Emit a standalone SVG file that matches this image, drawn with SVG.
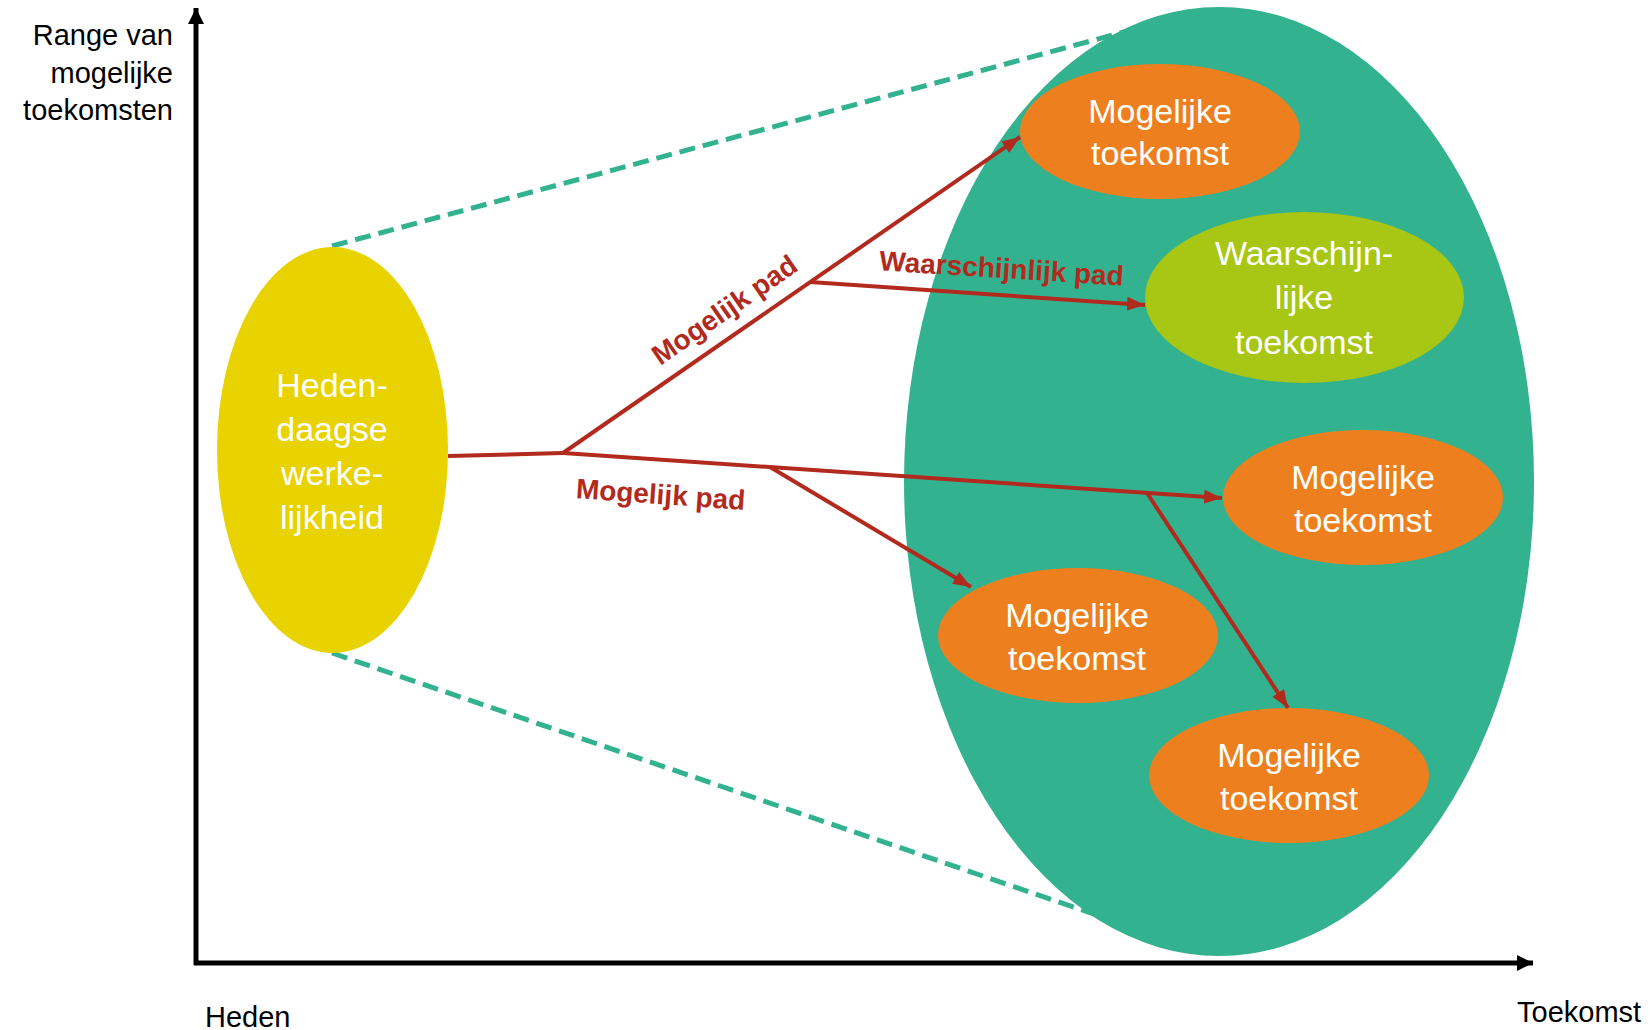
<svg xmlns="http://www.w3.org/2000/svg" width="1652" height="1030" viewBox="0 0 1652 1030">
<style>
.ax{font-family:"Liberation Sans",Arial,sans-serif;font-size:29px;fill:#000}
.wt{font-family:"Liberation Sans",Arial,sans-serif;font-size:34px;fill:#fff;text-anchor:middle}
.rl{font-family:"Liberation Sans",Arial,sans-serif;font-size:28px;font-weight:bold;fill:#B22A1E;text-anchor:middle}
.path{stroke:#B22A1E;stroke-width:4;fill:none}
.arr{marker-end:url(#ra)}
.dash{stroke:#33B290;stroke-width:5;stroke-dasharray:16 8;fill:none}
.orange{fill:#EE7F1E}
</style>
<defs>
<marker id="ra" markerUnits="userSpaceOnUse" markerWidth="18" markerHeight="14" refX="18" refY="7" orient="auto">
<path d="M0,0 L18,7 L0,14 z" fill="#B22A1E"/>
</marker>
<marker id="ka" markerUnits="userSpaceOnUse" markerWidth="16" markerHeight="16" refX="16" refY="8" orient="auto">
<path d="M0,0 L16,8 L0,16 z" fill="#000"/>
</marker>
</defs>
<rect width="1652" height="1030" fill="#fff"/>

<g id="axes">
<line x1="196" y1="965" x2="196" y2="8" stroke="#000" stroke-width="5" marker-end="url(#ka)"/>
<line x1="194" y1="963" x2="1533" y2="963" stroke="#000" stroke-width="5" marker-end="url(#ka)"/>
<text class="ax" x="173" y="45" text-anchor="end">Range van</text>
<text class="ax" x="173" y="83" text-anchor="end">mogelijke</text>
<text class="ax" x="173" y="120" text-anchor="end">toekomsten</text>
<text class="ax" x="205" y="1027">Heden</text>
<text class="ax" x="1517" y="1022">Toekomst</text>
</g>

<g id="range-lines">
<line class="dash" x1="332" y1="246" x2="1150" y2="25"/>
<line class="dash" x1="332" y1="653" x2="1120" y2="923"/>
</g>

<g id="future-range">
<ellipse cx="1219" cy="481.5" rx="315" ry="474.5" fill="#33B290"/>
</g>

<g id="heden">
<ellipse cx="332.5" cy="450" rx="115.5" ry="203" fill="#E8D300"/>
<text class="wt" x="332" y="397">Heden-</text>
<text class="wt" x="332" y="441">daagse</text>
<text class="wt" x="332" y="485">werke-</text>
<text class="wt" x="332" y="529">lijkheid</text>
</g>

<g id="toekomst1">
<ellipse class="orange" cx="1160" cy="131.5" rx="140" ry="67.5"/>
<text class="wt" x="1160" y="123">Mogelijke</text>
<text class="wt" x="1160" y="165">toekomst</text>
</g>

<g id="waarschijnlijk">
<ellipse cx="1304.5" cy="297.5" rx="159.5" ry="85.5" fill="#A8C614"/>
<text class="wt" x="1304" y="265">Waarschijn-</text>
<text class="wt" x="1304" y="309">lijke</text>
<text class="wt" x="1304" y="354">toekomst</text>
</g>

<g id="toekomst2">
<ellipse class="orange" cx="1363" cy="497.5" rx="140" ry="67.5"/>
<text class="wt" x="1363" y="489">Mogelijke</text>
<text class="wt" x="1363" y="532">toekomst</text>
</g>

<g id="toekomst3">
<ellipse class="orange" cx="1078" cy="635.5" rx="140" ry="67.5"/>
<text class="wt" x="1077" y="627">Mogelijke</text>
<text class="wt" x="1077" y="670">toekomst</text>
</g>

<g id="toekomst4">
<ellipse class="orange" cx="1289" cy="775.5" rx="140" ry="67.5"/>
<text class="wt" x="1289" y="767">Mogelijke</text>
<text class="wt" x="1289" y="810">toekomst</text>
</g>

<g id="connectors">
<path class="path" d="M448,456 L563,453"/>
<path class="path arr" d="M563,453 L1020,137"/>
<path class="path arr" d="M810,282 L1145,305"/>
<path class="path arr" d="M563,453 L1222,498"/>
<path class="path arr" d="M770,467 L971,587"/>
<path class="path arr" d="M1147,493 L1288,708"/>
<text class="rl" transform="translate(739,331) rotate(-34.7)" y="-16">Mogelijk pad</text>
<text class="rl" transform="translate(660,504) rotate(4)">Mogelijk pad</text>
<text class="rl" transform="translate(1001,278) rotate(3.6)">Waarschijnlijk pad</text>
</g>
</svg>
